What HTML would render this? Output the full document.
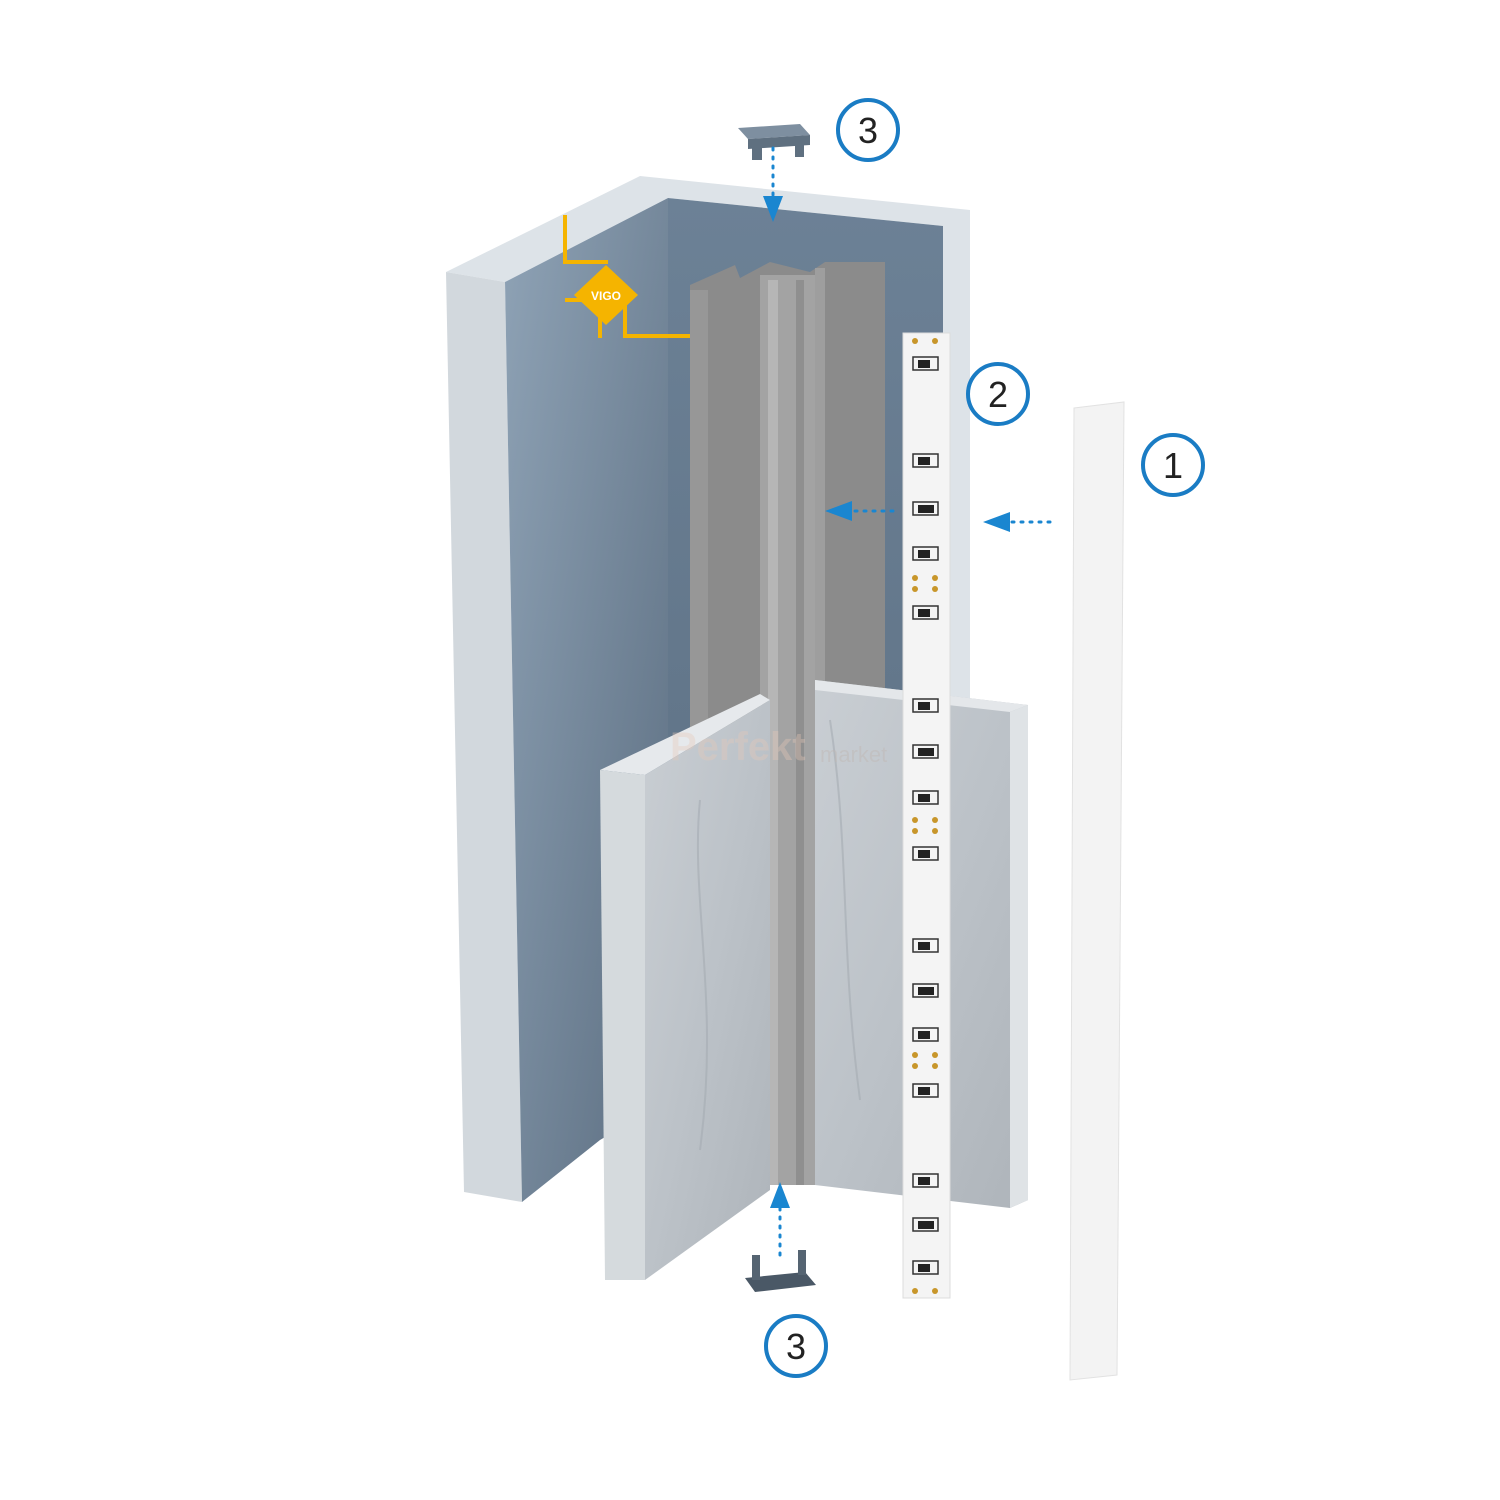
<!DOCTYPE html>
<html><head><meta charset="utf-8"><style>html,body{margin:0;padding:0;background:#fff}svg{display:block}</style></head><body>
<svg width="1500" height="1500" viewBox="0 0 1500 1500" xmlns="http://www.w3.org/2000/svg" font-family="Liberation Sans, sans-serif">
<defs>
<linearGradient id="blueL" x1="0" y1="0" x2="1" y2="1"><stop offset="0" stop-color="#8fa3b6"/><stop offset="1" stop-color="#5b6d80"/></linearGradient>
<linearGradient id="blueR" x1="0" y1="0" x2="0" y2="1"><stop offset="0" stop-color="#6c8196"/><stop offset="1" stop-color="#5a6d80"/></linearGradient>
<linearGradient id="marble" x1="0" y1="0" x2="1" y2="1"><stop offset="0" stop-color="#c9ced3"/><stop offset="0.5" stop-color="#bcc2c8"/><stop offset="1" stop-color="#aeb4ba"/></linearGradient>
</defs>
<polygon points="446,272 640,176 970,210 970,700 943,700 943,226 668,198 505,282" fill="#dde3e8"/>
<polygon points="446,272 505,282 522,1202 464,1192" fill="#d2d8dd"/>
<polygon points="668,198 943,226 943,1180 668,1180" fill="url(#blueR)"/>
<polygon points="505,282 668,198 668,1100 600,1140 522,1202" fill="url(#blueL)"/>
<polygon points="690,285 735,265 740,278 770,262 810,272 825,262 885,262 885,1180 690,1180" fill="#8b8b8b"/>
<rect x="690" y="290" width="18" height="890" fill="#979797"/>
<rect x="760" y="275" width="55" height="910" fill="#a3a3a3"/>
<rect x="768" y="280" width="10" height="905" fill="#b6b6b6"/>
<rect x="796" y="280" width="8" height="905" fill="#8f8f8f"/>
<rect x="815" y="268" width="10" height="910" fill="#9e9e9e"/>
<polygon points="815,680 1028,705 1028,1200 1010,1208 815,1185" fill="url(#marble)"/>
<polygon points="815,680 1028,705 1010,712 815,690" fill="#e4e7ea"/>
<polygon points="1010,712 1028,705 1028,1200 1010,1208" fill="#dfe3e6"/>
<polygon points="600,770 760,694 770,700 645,775" fill="#e6e9ec"/>
<polygon points="645,775 770,700 770,1190 645,1280" fill="url(#marble)"/>
<polygon points="600,770 645,775 645,1280 605,1280" fill="#d5dadd"/>
<path d="M700,800 C690,900 720,1000 700,1150 M830,720 C850,850 840,950 860,1100" stroke="#a5acb3" stroke-width="2" fill="none" opacity=".6"/>
<text x="670" y="760" font-size="40" font-weight="bold" fill="#e8c9b8" opacity=".35">Perfekt</text>
<text x="820" y="762" font-size="22" fill="#c0b8b4" opacity=".45">market</text>
<g stroke="#f5b400" stroke-width="4" fill="none">
<polyline points="565,215 565,262 608,262"/>
<polyline points="565,300 590,300"/>
<polyline points="600,315 600,338"/>
<polyline points="625,292 625,336 690,336"/>
</g>
<polygon points="606,265 638,295 606,325 574,295" fill="#f5b400"/>
<text x="606" y="300" font-size="12" font-weight="bold" fill="#fff" text-anchor="middle">VIGO</text>
<rect x="903" y="333" width="47" height="965" fill="#f4f4f4" stroke="#dcdcdc"/>
<g fill="#c8962a">
<circle cx="915" cy="341" r="3"/><circle cx="935" cy="341" r="3"/>
<circle cx="915" cy="578" r="3"/><circle cx="935" cy="578" r="3"/><circle cx="915" cy="589" r="3"/><circle cx="935" cy="589" r="3"/>
<circle cx="915" cy="820" r="3"/><circle cx="935" cy="820" r="3"/><circle cx="915" cy="831" r="3"/><circle cx="935" cy="831" r="3"/>
<circle cx="915" cy="1055" r="3"/><circle cx="935" cy="1055" r="3"/><circle cx="915" cy="1066" r="3"/><circle cx="935" cy="1066" r="3"/>
<circle cx="915" cy="1291" r="3"/><circle cx="935" cy="1291" r="3"/>
</g>
<g stroke="#333" stroke-width="1.5" fill="none">
<rect x="913" y="357" width="25" height="13"/><rect x="913" y="454" width="25" height="13"/><rect x="913" y="502" width="25" height="13"/><rect x="913" y="547" width="25" height="13"/><rect x="913" y="606" width="25" height="13"/><rect x="913" y="699" width="25" height="13"/><rect x="913" y="745" width="25" height="13"/><rect x="913" y="791" width="25" height="13"/><rect x="913" y="847" width="25" height="13"/><rect x="913" y="939" width="25" height="13"/><rect x="913" y="984" width="25" height="13"/><rect x="913" y="1028" width="25" height="13"/><rect x="913" y="1084" width="25" height="13"/><rect x="913" y="1174" width="25" height="13"/><rect x="913" y="1218" width="25" height="13"/><rect x="913" y="1261" width="25" height="13"/>
</g>
<g fill="#222">
<rect x="918" y="360" width="12" height="8"/><rect x="918" y="457" width="12" height="8"/><rect x="918" y="505" width="16" height="8"/><rect x="918" y="550" width="12" height="8"/><rect x="918" y="609" width="12" height="8"/><rect x="918" y="702" width="12" height="8"/><rect x="918" y="748" width="16" height="8"/><rect x="918" y="794" width="12" height="8"/><rect x="918" y="850" width="12" height="8"/><rect x="918" y="942" width="12" height="8"/><rect x="918" y="987" width="16" height="8"/><rect x="918" y="1031" width="12" height="8"/><rect x="918" y="1087" width="12" height="8"/><rect x="918" y="1177" width="12" height="8"/><rect x="918" y="1221" width="16" height="8"/><rect x="918" y="1264" width="12" height="8"/>
</g>
<polygon points="1074,408 1124,402 1117,1375 1070,1380" fill="#f3f3f3" stroke="#e2e2e2"/>
<polygon points="738,128 800,124 810,135 748,139" fill="#7e8fa0"/>
<polygon points="748,139 810,135 810,145 748,149" fill="#5f7080"/>
<rect x="752" y="146" width="10" height="14" fill="#5f7080"/><rect x="795" y="143" width="9" height="14" fill="#5f7080"/>
<polygon points="745,1278 805,1272 816,1285 755,1292" fill="#4a5866"/>
<rect x="752" y="1255" width="8" height="25" fill="#556472"/><rect x="798" y="1250" width="8" height="25" fill="#556472"/>
<g stroke="#1a86d0" stroke-width="3" stroke-dasharray="2,7" stroke-linecap="round">
<line x1="773" y1="148" x2="773" y2="200"/>
<line x1="780" y1="1208" x2="780" y2="1255"/>
<line x1="855" y1="511" x2="900" y2="511"/>
<line x1="1012" y1="522" x2="1056" y2="522"/>
</g>
<g fill="#1a86d0">
<polygon points="763,196 783,196 773,222"/>
<polygon points="770,1208 790,1208 780,1182"/>
<polygon points="852,501 852,521 825,511"/>
<polygon points="1010,512 1010,532 983,522"/>
</g>
<g fill="#fff" stroke="#1a7cc4" stroke-width="4">
<circle cx="868" cy="130" r="30"/><circle cx="998" cy="394" r="30"/><circle cx="1173" cy="465" r="30"/><circle cx="796" cy="1346" r="30"/>
</g>
<g font-size="36" fill="#222" text-anchor="middle">
<text x="868" y="143">3</text><text x="998" y="407">2</text><text x="1173" y="478">1</text><text x="796" y="1359">3</text>
</g>
</svg>
</body></html>
